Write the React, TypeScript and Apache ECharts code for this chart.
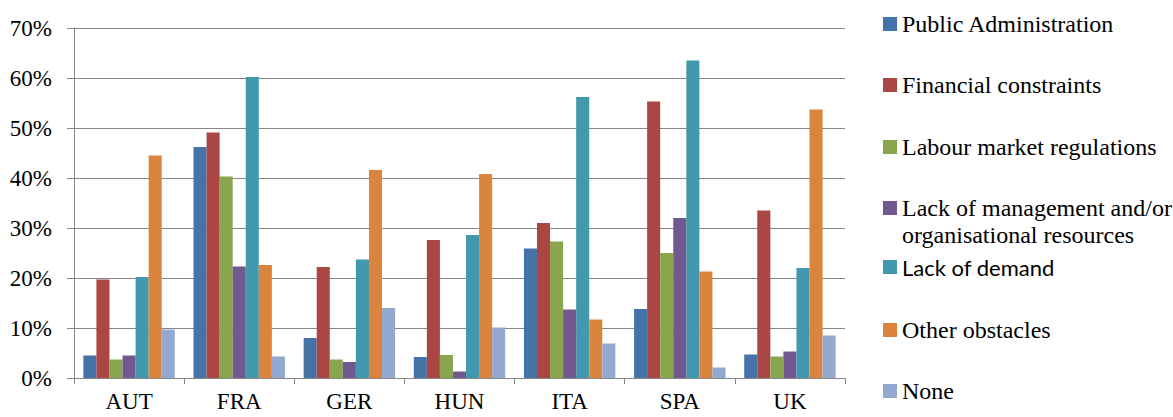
import React, { useEffect, useRef } from "react";
import * as echarts from "echarts";

const categories = ["AUT", "FRA", "GER", "HUN", "ITA", "SPA", "UK"];
const seriesNames = [
  "Public Administration",
  "Financial constraints",
  "Labour market regulations",
  "Lack of management and/or organisational resources",
  "Lack of demand",
  "Other obstacles",
  "None",
];
const colors = ["#4572A7", "#AA4643", "#89A54E", "#71588F", "#4198AF", "#DB843D", "#93A9CF"];
const publicAdministration = [4.5, 46.2, 8.0, 4.2, 25.9, 13.8, 4.7];
const financialConstraints = [19.7, 49.1, 22.2, 27.6, 31.0, 55.3, 33.5];
const labourMarket = [3.7, 40.3, 3.7, 4.6, 27.3, 25.0, 4.3];
const lackManagement = [4.5, 22.3, 3.2, 1.3, 13.7, 32.0, 5.3];
const lackDemand = [20.2, 60.2, 23.7, 28.6, 56.2, 63.5, 22.0];
const otherObstacles = [44.5, 22.6, 41.6, 40.8, 11.7, 21.3, 53.7];
const none = [9.7, 4.3, 14.0, 10.1, 6.9, 2.1, 8.5];
const seriesValues = [
  publicAdministration,
  financialConstraints,
  labourMarket,
  lackManagement,
  lackDemand,
  otherObstacles,
  none,
];
const legendCenters = [24, 85, 147, 208, 268, 330, 391];

const serif = "Liberation Serif";
const sans = "Lato";

export default function App() {
  const ref = useRef<HTMLDivElement>(null);
  useEffect(() => {
    if (!ref.current) return;
    const chart = echarts.init(ref.current, null, { renderer: "svg" });
    const legends = seriesNames.map((name, i) => ({
      data: [name],
      left: 883,
      top: legendCenters[i] - 12,
      orient: "vertical",
      padding: 0,
      itemWidth: 14,
      itemHeight: 14,
      itemGap: 0,
      icon: "rect",
      selectedMode: false,
      formatter: (n: string) =>
        n === "Lack of management and/or organisational resources" ? "Lack of management and/or" : n,
      textStyle: {
        fontFamily: i === 4 ? sans : serif,
        fontSize: i === 4 ? 22 : 24,
        color: "#000",
      },
    }));
    chart.setOption({
      animation: false,
      grid: { left: 74, right: 328, top: 28, bottom: 39, containLabel: false },
      legend: legends,
      graphic: [
        {
          type: "text",
          x: 902,
          y: 235,
          style: {
            text: "organisational resources",
            fontFamily: serif,
            fontSize: 24,
            fill: "#000",
            verticalAlign: "middle",
          },
        },
      ],
      xAxis: {
        type: "category",
        data: categories,
        axisLine: { lineStyle: { color: "#868686", width: 1 } },
        axisTick: { show: true, length: 6, lineStyle: { color: "#868686" } },
        axisLabel: { fontFamily: serif, fontSize: 23, color: "#000", margin: 12 },
      },
      yAxis: {
        type: "value",
        min: 0,
        max: 70,
        interval: 10,
        axisLine: { show: true, lineStyle: { color: "#868686", width: 1 } },
        axisTick: { show: true, length: 7, lineStyle: { color: "#868686" } },
        splitLine: { lineStyle: { color: "#868686", width: 1.2 } },
        axisLabel: {
          fontFamily: serif,
          fontSize: 23,
          color: "#000",
          margin: 22,
          formatter: (v: number) => v + "%",
        },
      },
      series: seriesNames.map((name, i) => ({
        name,
        type: "bar",
        data: seriesValues[i],
        barGap: "0%",
        barCategoryGap: "17%",
        itemStyle: { color: colors[i] },
      })),
    });
    return () => chart.dispose();
  }, []);
  return <div ref={ref} style={{ width: 1173, height: 417, position: "absolute", left: 0, top: 0 }} />;
}
